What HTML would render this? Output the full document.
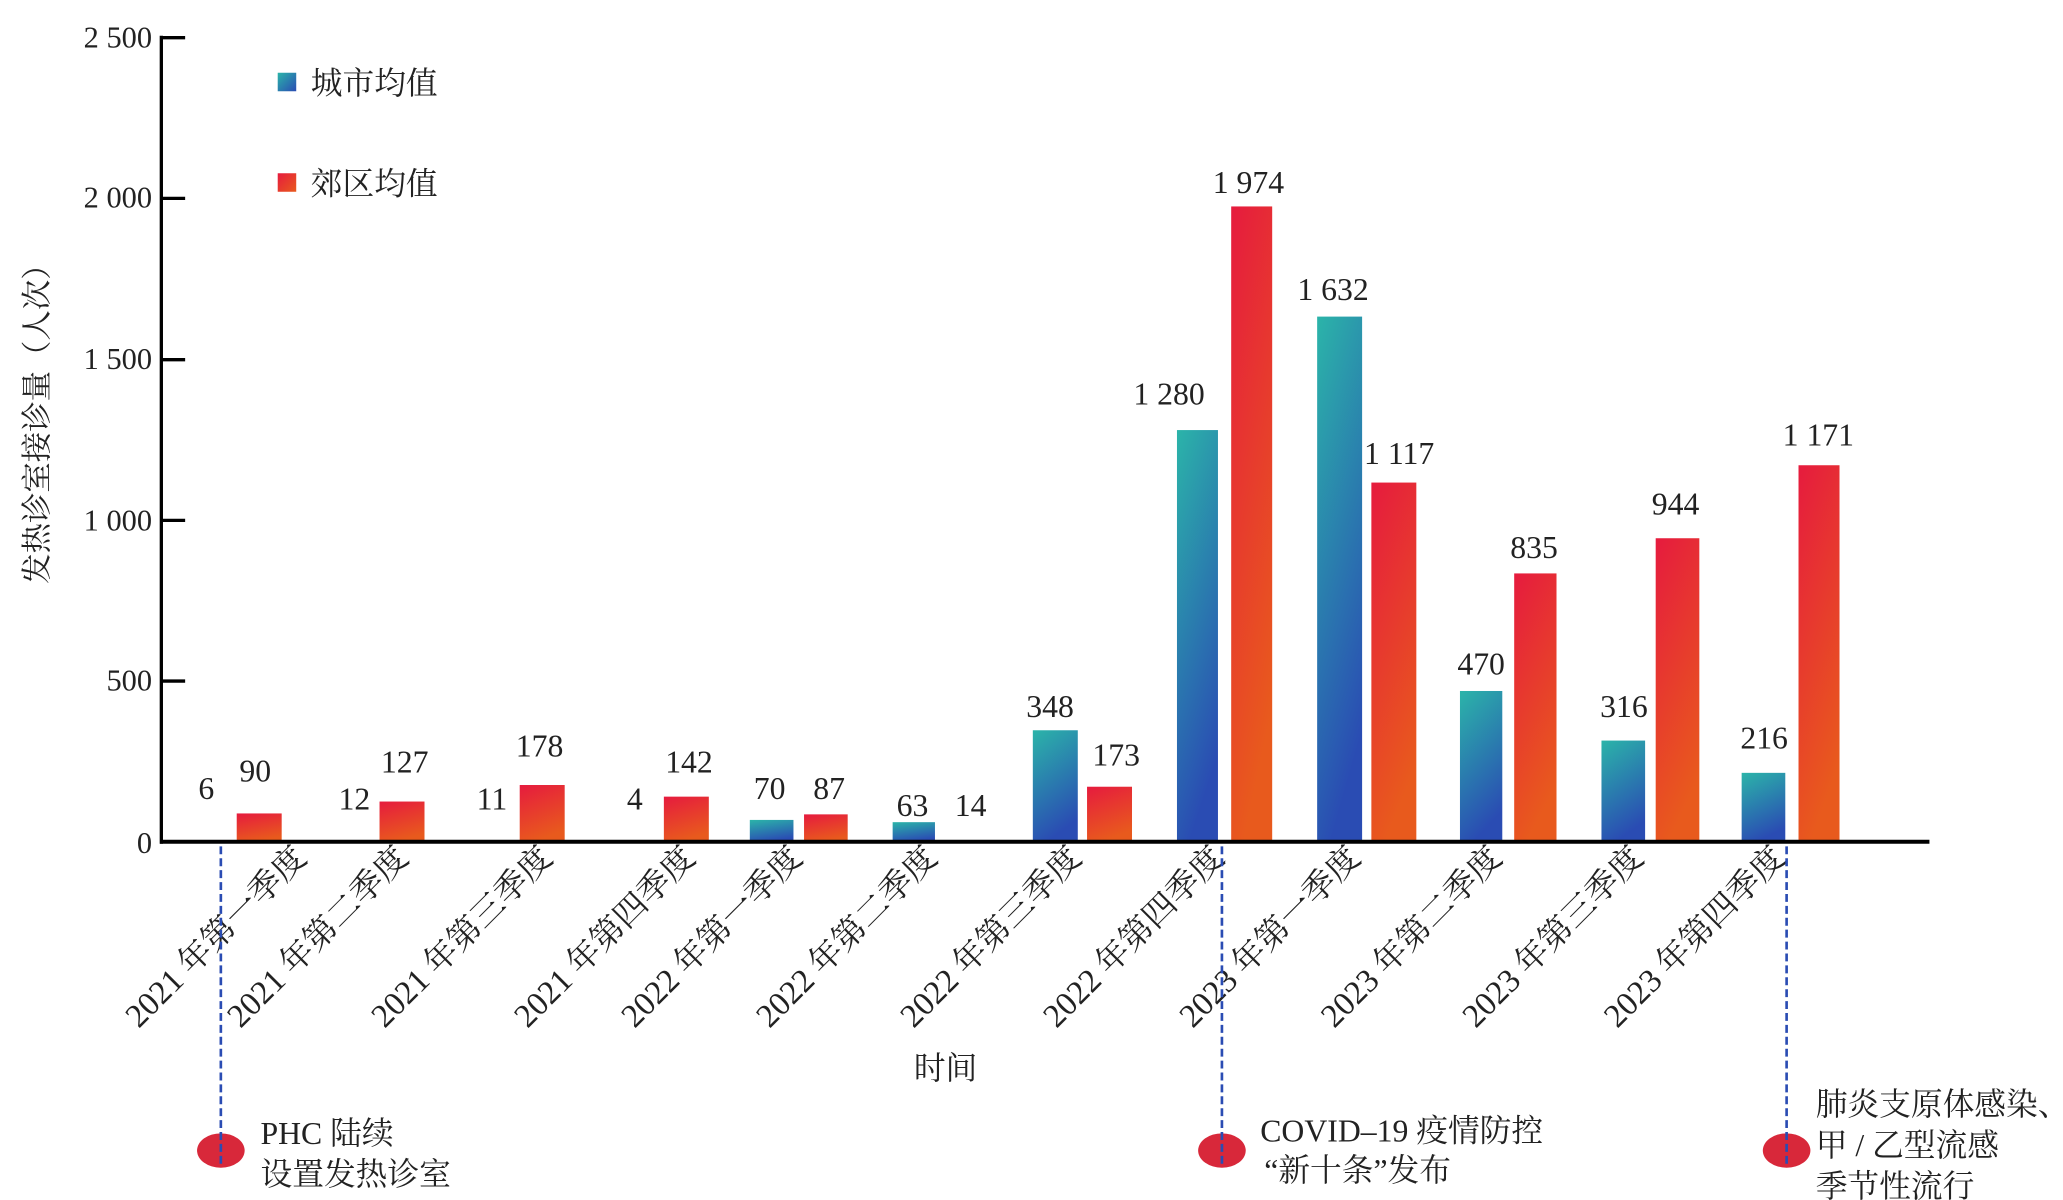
<!DOCTYPE html>
<html><head><meta charset="utf-8"><style>
html,body{margin:0;padding:0;background:#fff;}
svg{display:block;}
text{font-family:"Liberation Serif","Noto Serif CJK SC","Noto Sans CJK SC",serif;fill:#222;}
</style></head><body>
<svg width="2063" height="1200" viewBox="0 0 1560 907.4" xmlns="http://www.w3.org/2000/svg">
<defs>
<linearGradient id="gc" x1="0" y1="0" x2="0.3" y2="1"><stop offset="0" stop-color="#2bb4a9"/><stop offset="1" stop-color="#2a4cb3"/></linearGradient>
<linearGradient id="gs" x1="0" y1="0" x2="0.3" y2="1"><stop offset="0" stop-color="#e61b3e"/><stop offset="1" stop-color="#e85a1d"/></linearGradient>
<linearGradient id="gcl" x1="0" y1="0" x2="1" y2="1"><stop offset="0" stop-color="#2bb4a9"/><stop offset="1" stop-color="#2a4cb3"/></linearGradient>
<linearGradient id="gsl" x1="0" y1="0" x2="1" y2="1"><stop offset="0" stop-color="#e61b3e"/><stop offset="1" stop-color="#e85a1d"/></linearGradient>
</defs>
<line x1="122" y1="27" x2="122" y2="638" stroke="#000" stroke-width="2.5"/>
<g stroke="#000" stroke-width="2.5">
<line x1="122" y1="28.5" x2="140" y2="28.5"/>
<line x1="122" y1="150" x2="140" y2="150"/>
<line x1="122" y1="272" x2="140" y2="272"/>
<line x1="122" y1="393.5" x2="140" y2="393.5"/>
<line x1="122" y1="515" x2="140" y2="515"/>
</g>
<g font-size="23" text-anchor="end">
<text x="115" y="36">2 500</text>
<text x="115" y="157">2 000</text>
<text x="115" y="279">1 500</text>
<text x="115" y="401">1 000</text>
<text x="115" y="522">500</text>
<text x="115" y="645">0</text>
</g>
<text transform="translate(36,315) rotate(-90)" font-size="23" text-anchor="middle">发热诊室接诊量（人次）</text>
<rect x="210" y="55" width="14" height="14" fill="url(#gcl)"/>
<text x="235" y="71" font-size="24">城市均值</text>
<rect x="210" y="131" width="14" height="14" fill="url(#gsl)"/>
<text x="235" y="147" font-size="24">郊区均值</text>
<g>
<rect x="179" y="615.1" width="34" height="21.9" fill="url(#gs)"/>
<rect x="287" y="606.1" width="34" height="30.9" fill="url(#gs)"/>
<rect x="393" y="593.6" width="34" height="43.4" fill="url(#gs)"/>
<rect x="502" y="602.4" width="34" height="34.6" fill="url(#gs)"/>
<rect x="567" y="620" width="33" height="17" fill="url(#gc)"/>
<rect x="608" y="615.8" width="33" height="21.2" fill="url(#gs)"/>
<rect x="675" y="621.7" width="32" height="15.3" fill="url(#gc)"/>
<rect x="781" y="552.2" width="34" height="84.8" fill="url(#gc)"/>
<rect x="822" y="594.9" width="34" height="42.1" fill="url(#gs)"/>
<rect x="890" y="325.2" width="31" height="311.8" fill="url(#gc)"/>
<rect x="931" y="156.1" width="31" height="480.9" fill="url(#gs)"/>
<rect x="996" y="239.4" width="34" height="397.6" fill="url(#gc)"/>
<rect x="1037" y="364.9" width="34" height="272.1" fill="url(#gs)"/>
<rect x="1104" y="522.5" width="32" height="114.5" fill="url(#gc)"/>
<rect x="1145" y="433.6" width="32" height="203.4" fill="url(#gs)"/>
<rect x="1211" y="560" width="33" height="77" fill="url(#gc)"/>
<rect x="1252" y="407" width="33" height="230" fill="url(#gs)"/>
<rect x="1317" y="584.4" width="33" height="52.6" fill="url(#gc)"/>
<rect x="1360" y="351.8" width="31" height="285.2" fill="url(#gs)"/>
</g>
<line x1="121" y1="636.5" x2="1459" y2="636.5" stroke="#000" stroke-width="3"/>
<g font-size="24" text-anchor="middle">
<text x="156" y="604">6</text>
<text x="193" y="591">90</text>
<text x="268" y="612">12</text>
<text x="306" y="584">127</text>
<text x="372" y="612">11</text>
<text x="408" y="572">178</text>
<text x="480" y="612">4</text>
<text x="521" y="584">142</text>
<text x="582" y="604">70</text>
<text x="627" y="604">87</text>
<text x="690" y="617">63</text>
<text x="734" y="617">14</text>
<text x="794" y="542">348</text>
<text x="844" y="579">173</text>
<text x="884" y="306">1 280</text>
<text x="944" y="146">1 974</text>
<text x="1008" y="227">1 632</text>
<text x="1058" y="351">1 117</text>
<text x="1120" y="510">470</text>
<text x="1160" y="422">835</text>
<text x="1228" y="542">316</text>
<text x="1267" y="389">944</text>
<text x="1334" y="566">216</text>
<text x="1375" y="337">1 171</text>
</g>
<g font-size="25" text-anchor="end">
<text transform="translate(233,650) rotate(-45)">2021 年第一季度</text>
<text transform="translate(310,650) rotate(-45)">2021 年第二季度</text>
<text transform="translate(419,650) rotate(-45)">2021 年第三季度</text>
<text transform="translate(527,650) rotate(-45)">2021 年第四季度</text>
<text transform="translate(608,650) rotate(-45)">2022 年第一季度</text>
<text transform="translate(710,650) rotate(-45)">2022 年第二季度</text>
<text transform="translate(819,650) rotate(-45)">2022 年第三季度</text>
<text transform="translate(927,650) rotate(-45)">2022 年第四季度</text>
<text transform="translate(1030,650) rotate(-45)">2023 年第一季度</text>
<text transform="translate(1137,650) rotate(-45)">2023 年第二季度</text>
<text transform="translate(1244,650) rotate(-45)">2023 年第三季度</text>
<text transform="translate(1351,650) rotate(-45)">2023 年第四季度</text>
</g>
<text x="715" y="816" font-size="24" text-anchor="middle">时间</text>
<g fill="#d8283a">
<ellipse cx="167" cy="870" rx="18" ry="13"/>
<ellipse cx="924" cy="870" rx="18" ry="13"/>
<ellipse cx="1351" cy="870" rx="18" ry="13"/>
</g>
<g stroke="#2a4cb3" stroke-width="2" stroke-dasharray="6,3">
<line x1="167" y1="640" x2="167" y2="882"/>
<line x1="924" y1="640" x2="924" y2="882"/>
<line x1="1351" y1="640" x2="1351" y2="882"/>
</g>
<g font-size="24">
<text x="197" y="865">PHC 陆续</text>
<text x="197" y="896">设置发热诊室</text>
<text x="953" y="863">COVID–19 疫情防控</text>
<text x="956" y="893">“新十条”发布</text>
<text x="1373" y="843">肺炎支原体感染、</text>
<text x="1373" y="874">甲 / 乙型流感</text>
<text x="1373" y="905">季节性流行</text>
</g>
</svg>
</body></html>
